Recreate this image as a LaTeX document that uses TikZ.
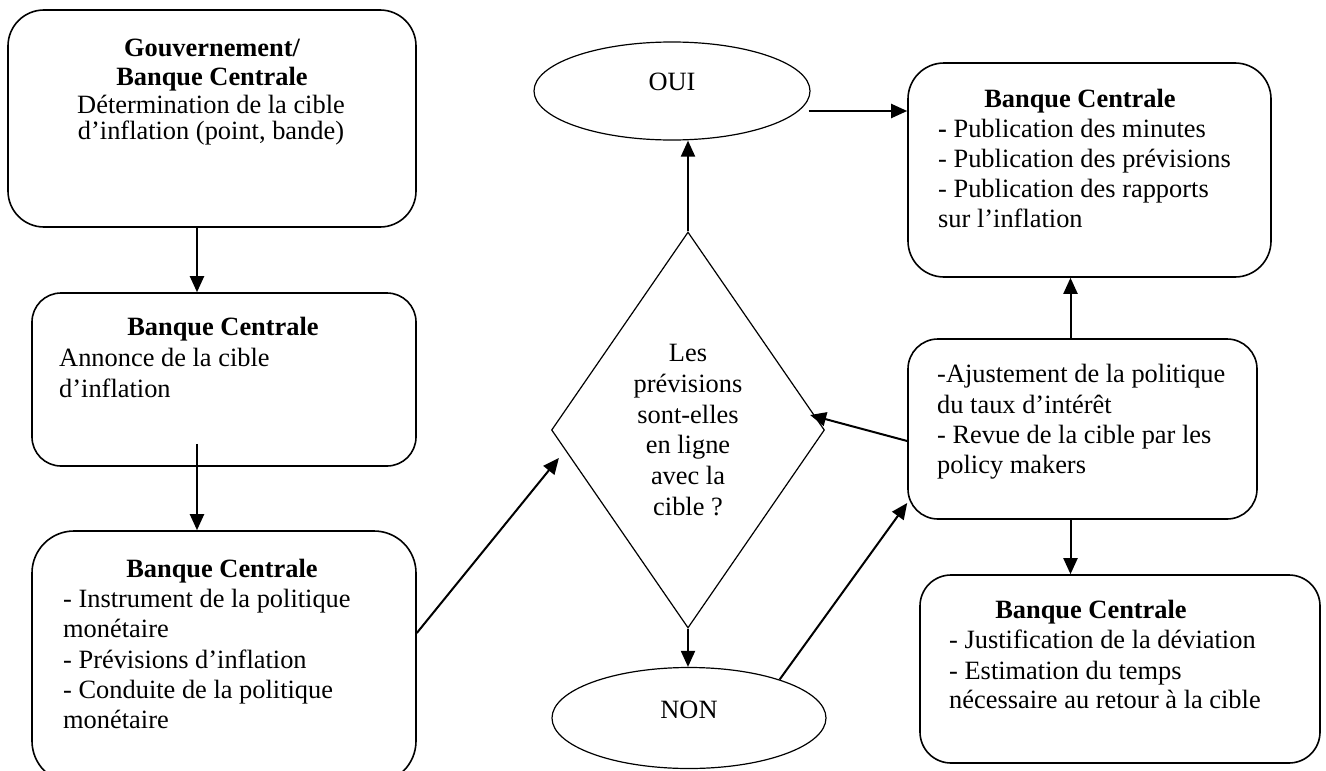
\documentclass[tikz,border=0pt]{standalone}
\usepackage{fontspec}
\setmainfont{Liberation Serif}
\usetikzlibrary{shapes.geometric,arrows.meta,calc}
\begin{document}
\begin{tikzpicture}[x=1pt,y=-1pt,
  box/.style={draw, line width=1.6pt, rectangle, inner sep=0pt},
  shp/.style={draw, line width=1.2pt, inner sep=0pt},
  txt/.style={inner sep=0pt, font=\fontsize{26.4}{30}\selectfont},
  bf/.style={inner sep=0pt, font=\fontsize{26.4}{30}\selectfont\bfseries},
  arr/.style={line width=2pt, -{Triangle[length=16pt,width=14pt]}},
]
\useasboundingbox (0,0) rectangle (1326,771);

% boxes
\node[box, minimum width=408pt, minimum height=217pt, rounded corners=36pt] (b1) at (212,118.5) {};
\node[box, minimum width=384pt, minimum height=173pt, rounded corners=29pt] (b2) at (224,379.5) {};
\node[box, minimum width=384pt, minimum height=252pt, rounded corners=42pt] (b3) at (224,657) {};
\node[box, minimum width=363pt, minimum height=214pt, rounded corners=36pt] (pub) at (1089.5,170) {};
\node[box, minimum width=349pt, minimum height=180pt, rounded corners=30pt] (adj) at (1082.5,429) {};
\node[box, minimum width=400pt, minimum height=188pt, rounded corners=31pt] (b4) at (1120,669) {};

% decision and outcomes
\node[shp, diamond, minimum width=273pt, minimum height=396pt] (dia) at (688,430) {};
\node[shp, ellipse, minimum width=276pt, minimum height=98pt] (oui) at (672,91) {};
\node[shp, ellipse, minimum width=274pt, minimum height=101pt] (non) at (689,718) {};

% texts box 1
\node[bf, anchor=base] (t1a) at (212,56) {Gouvernement/};
\node[bf, anchor=base] (t1b) at (212,85) {Banque Centrale};
\node[txt, anchor=base] (t1c) at (211,113) {Détermination de la cible};
\node[txt, anchor=base] (t1d) at (211,139) {d’inflation (point, bande)};

% texts box 2
\node[bf, anchor=base] (t2a) at (223,335) {Banque Centrale};
\node[txt, anchor=base west] (t2b) at (59,366) {Annonce de la cible};
\node[txt, anchor=base west] (t2c) at (59,397) {d’inflation};

% texts box 3
\node[bf, anchor=base] (t3a) at (222,577) {Banque Centrale};
\node[txt, anchor=base west] (t3b) at (63,607) {- Instrument de la politique};
\node[txt, anchor=base west] (t3c) at (63,637) {monétaire};
\node[txt, anchor=base west] (t3d) at (63,668) {- Prévisions d’inflation};
\node[txt, anchor=base west] (t3e) at (63,698) {- Conduite de la politique};
\node[txt, anchor=base west] (t3f) at (63,728) {monétaire};

% diamond text
\node[txt, anchor=base] (d1) at (688,361) {Les};
\node[txt, anchor=base] (d2) at (688,392) {prévisions};
\node[txt, anchor=base] (d3) at (688,423) {sont-elles};
\node[txt, anchor=base] (d4) at (688,453) {en ligne};
\node[txt, anchor=base] (d5) at (688,484) {avec la};
\node[txt, anchor=base] (d6) at (688,515) {cible ?};

% ellipse texts
\node[txt, anchor=base] (ouit) at (672,90) {OUI};
\node[txt, anchor=base] (nont) at (689,718) {NON};

% publication box
\node[bf, anchor=base] (p1) at (1080,107) {Banque Centrale};
\node[txt, anchor=base west] (p2) at (938,137) {\textbf{-} Publication des minutes};
\node[txt, anchor=base west] (p3) at (938,167) {- Publication des prévisions};
\node[txt, anchor=base west] (p4) at (938,197) {- Publication des rapports};
\node[txt, anchor=base west] (p5) at (938,227) {sur l’inflation};

% adjustment box
\node[txt, anchor=base west] (a1) at (937,382) {-Ajustement de la politique};
\node[txt, anchor=base west] (a2) at (937,413) {du taux d’intérêt};
\node[txt, anchor=base west] (a3) at (937,443) {- Revue de la cible par les};
\node[txt, anchor=base west] (a4) at (937,473) {policy makers};

% bottom box
\node[bf, anchor=base] (q1) at (1091,618) {Banque Centrale};
\node[txt, anchor=base west] (q2) at (949,648) {- Justification de la déviation};
\node[txt, anchor=base west] (q3) at (949,679) {- Estimation du temps};
\node[txt, anchor=base west] (q4) at (949,708) {nécessaire au retour à la cible};

% connectors
\draw[arr] ([xshift=-15pt]b1.south) -- ([xshift=-15pt]b1.south |- b2.north);
\draw[arr] ([xshift=-27pt,yshift=23pt]b2.south) -- ([xshift=-27pt]b3.north);
\draw[arr] ([yshift=24pt]b3.east) -- ($(dia.west)+(8,28)$);
\draw[arr] (dia.north) -- (dia.north |- oui.south);
\coordinate (ouiout) at ($(oui.east)+(-2,20)$);
\draw[arr] (ouiout) -- (ouiout -| pub.west);
\draw[arr] (dia.south) -- (dia.south |- non.north);
\draw[arr] (non.23) -- ([yshift=-74pt]adj.west);
\draw[arr] ([yshift=-12pt]adj.west) -- ($(dia.east)+(-15,-15)$);
\draw[arr] ([xshift=-12pt]adj.north) -- ([xshift=-12pt]adj.north |- pub.south);
\draw[arr] ([xshift=-12pt]adj.south) -- ([xshift=-12pt]adj.south |- b4.north);
\end{tikzpicture}
\end{document}
